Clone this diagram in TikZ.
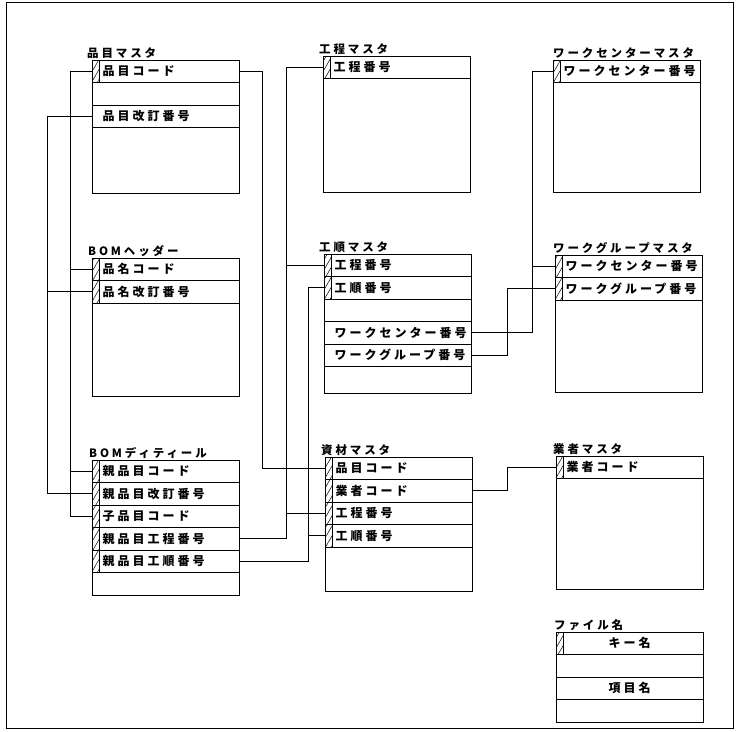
\documentclass[tikz,border=0pt]{standalone}
\usepackage{fontspec}
\setmainfont{Noto Sans CJK JP}[LetterSpace=25]
\usetikzlibrary{positioning,patterns.meta}
\tikzset{
  tBox/.style={draw,line width=.8pt,minimum width=147pt,inner sep=0pt,
        outer sep=0pt,anchor=north west},
  tRow/.style={draw,line width=.7pt,minimum width=147pt,minimum height=22.5pt,
        inner xsep=10.5pt,inner ysep=0pt,outer sep=0pt,text width=126pt,
        align=left,font=\fontsize{12}{12}\selectfont\bfseries},
  tRowC/.style={tRow,align=center},
  tKey/.style={draw,line width=.6pt,
        pattern={Lines[angle=60,distance=5pt,line width=.5pt]},
        minimum width=7pt,minimum height=22.5pt,inner sep=0pt,outer sep=0pt,
        anchor=north west},
  tTitle/.style={anchor=south west,inner sep=1pt,
        font=\fontsize{11.5}{11.5}\selectfont\bfseries},
  tLink/.style={line width=.7pt},
  tFrame/.style={line width=.9pt},
}
\begin{document}
\begin{tikzpicture}[x=1pt,y=-1pt]
\useasboundingbox (0,0) rectangle (738,731);
\draw[tFrame] (6,2) rectangle (733,728);
% 品目マスタ
\node[tBox,minimum height=133pt] (hm) at (92,60) {};
\node[tTitle] (hmT) at ([xshift=-6pt]hm.north west) {品目マスタ};
\node[tRow,anchor=north west] (hm1) at (hm.north west) {品目コード};
\node[tRow,below=0pt of hm1] (hm2) {};
\node[tRow,below=0pt of hm2] (hm3) {品目改訂番号};
\node[tKey] (hm1k) at (hm1.north west) {};
% 工程マスタ
\node[tBox,minimum height=136pt] (km) at (323,56) {};
\node[tTitle] (kmT) at ([xshift=-5pt]km.north west) {工程マスタ};
\node[tRow,anchor=north west] (km1) at (km.north west) {工程番号};
\node[tKey] (km1k) at (km1.north west) {};
% ワークセンターマスタ
\node[tBox,minimum height=132pt] (wc) at (553,60) {};
\node[tTitle] (wcT) at ([xshift=-1pt]wc.north west) {ワークセンターマスタ};
\node[tRow,anchor=north west] (wc1) at (wc.north west) {ワークセンター番号};
\node[tKey] (wc1k) at (wc1.north west) {};
% BOMヘッダー
\node[tBox,minimum height=138pt] (bh) at (92,258) {};
\node[tTitle] (bhT) at ([xshift=-5pt]bh.north west) {BOMヘッダー};
\node[tRow,anchor=north west] (bh1) at (bh.north west) {品名コード};
\node[tRow,below=0pt of bh1] (bh2) {品名改訂番号};
\node[tKey] (bh1k) at (bh1.north west) {};
\node[tKey] (bh2k) at (bh2.north west) {};
% 工順マスタ
\node[tBox,minimum height=139pt] (kj) at (324,254) {};
\node[tTitle] (kjT) at ([xshift=-6pt]kj.north west) {工順マスタ};
\node[tRow,anchor=north west] (kj1) at (kj.north west) {工程番号};
\node[tRow,below=0pt of kj1] (kj2) {工順番号};
\node[tRow,below=0pt of kj2] (kj3) {};
\node[tRow,below=0pt of kj3] (kj4) {ワークセンター番号};
\node[tRow,below=0pt of kj4] (kj5) {ワークグループ番号};
\node[tKey] (kj1k) at (kj1.north west) {};
\node[tKey] (kj2k) at (kj2.north west) {};
% ワークグループマスタ
\node[tBox,minimum height=137pt] (wg) at (555,255) {};
\node[tTitle] (wgT) at ([xshift=-3pt]wg.north west) {ワークグループマスタ};
\node[tRow,anchor=north west] (wg1) at (wg.north west) {ワークセンター番号};
\node[tRow,below=0pt of wg1] (wg2) {ワークグループ番号};
\node[tKey] (wg1k) at (wg1.north west) {};
\node[tKey] (wg2k) at (wg2.north west) {};
% BOMディティール
\node[tBox,minimum height=135pt] (bd) at (92,460) {};
\node[tTitle] (bdT) at ([xshift=-4pt]bd.north west) {BOMディティール};
\node[tRow,anchor=north west] (bd1) at (bd.north west) {親品目コード};
\node[tRow,below=0pt of bd1] (bd2) {親品目改訂番号};
\node[tRow,below=0pt of bd2] (bd3) {子品目コード};
\node[tRow,below=0pt of bd3] (bd4) {親品目工程番号};
\node[tRow,below=0pt of bd4] (bd5) {親品目工順番号};
\node[tKey] (bd1k) at (bd1.north west) {};
\node[tKey] (bd2k) at (bd2.north west) {};
\node[tKey] (bd3k) at (bd3.north west) {};
\node[tKey] (bd4k) at (bd4.north west) {};
\node[tKey] (bd5k) at (bd5.north west) {};
% 資材マスタ
\node[tBox,minimum height=134pt] (sz) at (325,457) {};
\node[tTitle] (szT) at ([xshift=-5pt]sz.north west) {資材マスタ};
\node[tRow,anchor=north west] (sz1) at (sz.north west) {品目コード};
\node[tRow,below=0pt of sz1] (sz2) {業者コード};
\node[tRow,below=0pt of sz2] (sz3) {工程番号};
\node[tRow,below=0pt of sz3] (sz4) {工順番号};
\node[tKey] (sz1k) at (sz1.north west) {};
\node[tKey] (sz2k) at (sz2.north west) {};
\node[tKey] (sz3k) at (sz3.north west) {};
\node[tKey] (sz4k) at (sz4.north west) {};
% 業者マスタ
\node[tBox,minimum height=133pt] (gy) at (556,456) {};
\node[tTitle] (gyT) at ([xshift=-4pt]gy.north west) {業者マスタ};
\node[tRow,anchor=north west] (gy1) at (gy.north west) {業者コード};
\node[tKey] (gy1k) at (gy1.north west) {};
% ファイル名 (legend)
\node[tBox,minimum height=90pt] (fn) at (556,632) {};
\node[tTitle] (fnT) at ([xshift=-3pt]fn.north west) {ファイル名};
\node[tRowC,anchor=north west] (fn1) at (fn.north west) {キー名};
\node[tRowC,below=0pt of fn1] (fn2) {};
\node[tRowC,below=0pt of fn2] (fn3) {項目名};
\node[tKey] (fn1k) at (fn1.north west) {};
% connector buses
\coordinate (busB) at (47,0);
\coordinate (busA) at (70,0);
\coordinate (busC) at (262,0);
\coordinate (busD) at (286,0);
\coordinate (busE) at (308,0);
\coordinate (busG) at (507,0);
\coordinate (busF) at (532,0);
\draw[tLink] (hm1.west) -| (busA |- bd3.west) -- (bd3.west);
\draw[tLink] (bh1.west) -- (bh1.west -| busA);
\draw[tLink] (bd1.west) -- (bd1.west -| busA);
\draw[tLink] (hm3.west) -| (busB |- bd2.west) -- (bd2.west);
\draw[tLink] (bh2.west) -- (bh2.west -| busB);
\draw[tLink] (hm1.east) -| (busC |- sz1.west) -- (sz1.west);
\draw[tLink] (km1.west) -| (busD |- bd4.east) -- (bd4.east);
\draw[tLink] (kj1.west) -- (kj1.west -| busD);
\draw[tLink] (sz3.west) -- (sz3.west -| busD);
\draw[tLink] (kj2.west) -| (busE |- bd5.east) -- (bd5.east);
\draw[tLink] (sz4.west) -- (sz4.west -| busE);
\draw[tLink] (wc1.west) -| (busF |- kj4.east) -- (kj4.east);
\draw[tLink] (wg1.west) -- (wg1.west -| busF);
\draw[tLink] (kj5.east) -| (busG |- wg2.west) -- (wg2.west);
\draw[tLink] (sz2.east) -| (busG |- gy1.west) -- (gy1.west);
\end{tikzpicture}
\end{document}
